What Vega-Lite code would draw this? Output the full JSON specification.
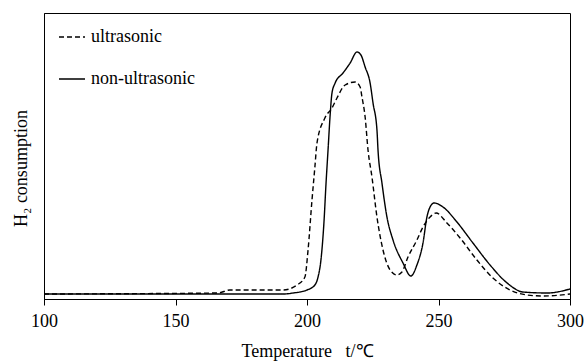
{
  "$schema": "https://vega.github.io/schema/vega-lite/v6.json",
  "autosize": "none",
  "width": 526,
  "height": 286,
  "padding": {"left": 44, "top": 13, "right": 15, "bottom": 63},
  "background": "white",
  "config": {
    "font": "Liberation Serif",
    "view": {"stroke": "black", "strokeWidth": 1},
    "axis": {"domainColor": "black", "tickColor": "black", "labelColor": "black", "titleColor": "black", "grid": false, "labelFont": "Liberation Serif", "titleFont": "Liberation Serif", "titleFontWeight": "normal"},
    "legend": {"labelFont": "Liberation Serif, serif", "titleFont": "Liberation Serif", "labelColor": "black"}
  },
  "datasets": {
    "curves": [
      {"series": "non-ultrasonic", "t": 100, "v": 5},
      {"series": "non-ultrasonic", "t": 190.9, "v": 5},
      {"series": "non-ultrasonic", "t": 194.7, "v": 6},
      {"series": "non-ultrasonic", "t": 200.0, "v": 9},
      {"series": "non-ultrasonic", "t": 203.0, "v": 14},
      {"series": "non-ultrasonic", "t": 204.2, "v": 22},
      {"series": "non-ultrasonic", "t": 205.3, "v": 39},
      {"series": "non-ultrasonic", "t": 206.5, "v": 79},
      {"series": "non-ultrasonic", "t": 207.2, "v": 114},
      {"series": "non-ultrasonic", "t": 208.0, "v": 149},
      {"series": "non-ultrasonic", "t": 208.8, "v": 184},
      {"series": "non-ultrasonic", "t": 209.5, "v": 206},
      {"series": "non-ultrasonic", "t": 210.7, "v": 216},
      {"series": "non-ultrasonic", "t": 213.7, "v": 226},
      {"series": "non-ultrasonic", "t": 216.4, "v": 236},
      {"series": "non-ultrasonic", "t": 219.0, "v": 247},
      {"series": "non-ultrasonic", "t": 220.5, "v": 244},
      {"series": "non-ultrasonic", "t": 222.1, "v": 232},
      {"series": "non-ultrasonic", "t": 224.0, "v": 216},
      {"series": "non-ultrasonic", "t": 225.1, "v": 196},
      {"series": "non-ultrasonic", "t": 226.6, "v": 169},
      {"series": "non-ultrasonic", "t": 227.0, "v": 149},
      {"series": "non-ultrasonic", "t": 228.5, "v": 116},
      {"series": "non-ultrasonic", "t": 230.4, "v": 82},
      {"series": "non-ultrasonic", "t": 232.7, "v": 59},
      {"series": "non-ultrasonic", "t": 236.5, "v": 36},
      {"series": "non-ultrasonic", "t": 239.5, "v": 23},
      {"series": "non-ultrasonic", "t": 241.8, "v": 34},
      {"series": "non-ultrasonic", "t": 244.1, "v": 56},
      {"series": "non-ultrasonic", "t": 245.6, "v": 82},
      {"series": "non-ultrasonic", "t": 246.8, "v": 92},
      {"series": "non-ultrasonic", "t": 248.3, "v": 96},
      {"series": "non-ultrasonic", "t": 251.7, "v": 92},
      {"series": "non-ultrasonic", "t": 257.0, "v": 77},
      {"series": "non-ultrasonic", "t": 263.1, "v": 56},
      {"series": "non-ultrasonic", "t": 269.6, "v": 34},
      {"series": "non-ultrasonic", "t": 276.1, "v": 16},
      {"series": "non-ultrasonic", "t": 282.1, "v": 7},
      {"series": "non-ultrasonic", "t": 291.3, "v": 6},
      {"series": "non-ultrasonic", "t": 300, "v": 10},
      {"series": "ultrasonic", "t": 100, "v": 5},
      {"series": "ultrasonic", "t": 166.2, "v": 6},
      {"series": "ultrasonic", "t": 170.7, "v": 9},
      {"series": "ultrasonic", "t": 190.9, "v": 9},
      {"series": "ultrasonic", "t": 196.2, "v": 14},
      {"series": "ultrasonic", "t": 199.2, "v": 22},
      {"series": "ultrasonic", "t": 200.4, "v": 49},
      {"series": "ultrasonic", "t": 201.9, "v": 99},
      {"series": "ultrasonic", "t": 203.0, "v": 132},
      {"series": "ultrasonic", "t": 203.8, "v": 156},
      {"series": "ultrasonic", "t": 206.8, "v": 181},
      {"series": "ultrasonic", "t": 209.5, "v": 191},
      {"series": "ultrasonic", "t": 211.4, "v": 201},
      {"series": "ultrasonic", "t": 214.5, "v": 214},
      {"series": "ultrasonic", "t": 218.3, "v": 217},
      {"series": "ultrasonic", "t": 220.2, "v": 212},
      {"series": "ultrasonic", "t": 220.9, "v": 202},
      {"series": "ultrasonic", "t": 222.1, "v": 182},
      {"series": "ultrasonic", "t": 223.2, "v": 149},
      {"series": "ultrasonic", "t": 224.7, "v": 122},
      {"series": "ultrasonic", "t": 226.6, "v": 82},
      {"series": "ultrasonic", "t": 228.9, "v": 49},
      {"series": "ultrasonic", "t": 231.6, "v": 29},
      {"series": "ultrasonic", "t": 234.2, "v": 24},
      {"series": "ultrasonic", "t": 236.1, "v": 27},
      {"series": "ultrasonic", "t": 238.4, "v": 42},
      {"series": "ultrasonic", "t": 241.8, "v": 59},
      {"series": "ultrasonic", "t": 244.1, "v": 72},
      {"series": "ultrasonic", "t": 246.8, "v": 82},
      {"series": "ultrasonic", "t": 249.1, "v": 86},
      {"series": "ultrasonic", "t": 253.2, "v": 76},
      {"series": "ultrasonic", "t": 258.2, "v": 61},
      {"series": "ultrasonic", "t": 264.6, "v": 39},
      {"series": "ultrasonic", "t": 270.7, "v": 21},
      {"series": "ultrasonic", "t": 277.2, "v": 9},
      {"series": "ultrasonic", "t": 283.7, "v": 4},
      {"series": "ultrasonic", "t": 289.7, "v": 3},
      {"series": "ultrasonic", "t": 300, "v": 5}
    ]
  },
  "data": {"name": "curves"},
  "mark": {"type": "line", "color": "black", "strokeWidth": 1.4, "interpolate": "monotone", "clip": true},
  "encoding": {
    "x": {
      "field": "t", "type": "quantitative",
      "scale": {"domain": [100, 300], "nice": false, "zero": false},
      "axis": {"values": [100, 150, 200, 250, 300], "title": "Temperature\u00a0\u00a0\u00a0t/℃", "labelFontSize": 18, "titleFontSize": 18, "tickSize": 6, "labelPadding": 7, "titlePadding": 12, "labelFlush": false}
    },
    "y": {
      "field": "v", "type": "quantitative",
      "scale": {"domain": [0, 286], "nice": false},
      "axis": {"title": "H₂ consumption", "labels": false, "ticks": false, "titleFontSize": 18, "titlePadding": 14, "titleY": 155}
    },
    "strokeDash": {
      "field": "series", "type": "nominal",
      "scale": {"domain": ["ultrasonic", "non-ultrasonic"], "range": [[5, 3], [1, 0]]},
      "legend": {"title": null, "orient": "none", "legendX": 14, "legendY": 10, "symbolType": "stroke", "symbolSize": 676, "symbolStrokeColor": "black", "symbolStrokeWidth": 1.3, "labelFontSize": 18, "labelFont": "Liberation Serif, serif", "labelColor": "black", "rowPadding": 19, "labelOffset": 5}
    },
    "order": {"field": "t", "type": "quantitative"}
  }
}
